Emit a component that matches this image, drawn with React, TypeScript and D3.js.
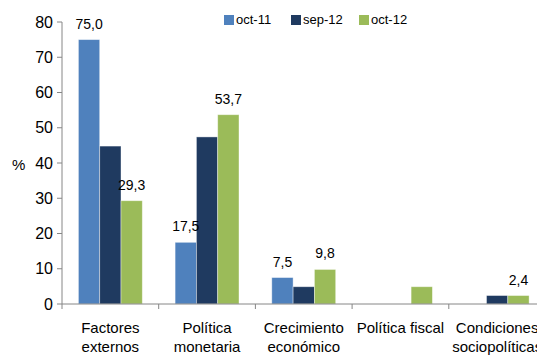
import React from "react";
import * as d3 from "d3";

const categories = [
  ["Factores", "externos"],
  ["Política", "monetaria"],
  ["Crecimiento", "económico"],
  ["Política fiscal"],
  ["Condiciones", "sociopolíticas"],
];
const seriesNames = ["oct-11", "sep-12", "oct-12"];
const colors = ["#4F81BD", "#1F3A60", "#9BBB59"];
const oct11 = [75.0, 17.5, 7.5, 0, 0];
const sep12 = [44.8, 47.4, 4.9, 0, 2.4];
const oct12 = [29.3, 53.7, 9.8, 4.9, 2.4];
const oct11Labels = ["75,0", "17,5", "7,5", "", ""];
const sep12Labels = ["", "", "", "", ""];
const oct12Labels = ["29,3", "53,7", "9,8", "", "2,4"];
const yTicks = [0, 10, 20, 30, 40, 50, 60, 70, 80];

const W = 537;
const H = 356;
const font = "'Liberation Sans', Arial, sans-serif";

export default function App() {
  const series = [oct11, sep12, oct12];
  const labels = [oct11Labels, sep12Labels, oct12Labels];
  const left = 62;
  const catW = 96.7;
  const x = d3
    .scaleBand<number>()
    .domain(d3.range(categories.length))
    .range([left, left + catW * categories.length])
    .paddingInner(0)
    .paddingOuter(0);
  const y = d3.scaleLinear().domain([0, 80]).range([304, 22]);
  const inner = d3
    .scaleBand<number>()
    .domain([0, 1, 2])
    .range([0, x.bandwidth()])
    .paddingInner(0)
    .paddingOuter(0.77);

  return (
    <svg
      width={W}
      height={H}
      style={{ position: "absolute", left: 0, top: 0, background: "#fff" }}
      fontFamily={font}
    >
      {/* y axis */}
      <line x1={left} x2={left} y1={y(80)} y2={y(0)} stroke="#868686" strokeWidth={1} />
      {yTicks.map((t) => (
        <g key={t}>
          <line x1={left - 5} x2={left} y1={y(t)} y2={y(t)} stroke="#868686" />
          <text x={53} y={y(t)} dy="0.35em" textAnchor="end" fontSize={16} fill="#000">
            {t}
          </text>
        </g>
      ))}
      <text x={12} y={y(40)} dy="0.45em" fontSize={15} fill="#000">
        %
      </text>
      {/* bars */}
      {series.map((vals, si) =>
        vals.map((v, ci) =>
          v > 0 ? (
            <rect
              key={`${si}-${ci}`}
              x={(x(ci) as number) + (inner(si) as number)}
              y={y(v)}
              width={inner.bandwidth()}
              height={y(0) - y(v)}
              fill={colors[si]}
              stroke="#ffffff"
              strokeOpacity={0.5}
              strokeWidth={0.8}
            />
          ) : null
        )
      )}
      {/* data labels */}
      {labels.map((labs, si) =>
        labs.map((l, ci) =>
          l ? (
            <text
              key={`l${si}-${ci}`}
              x={(x(ci) as number) + (inner(si) as number) + inner.bandwidth() / 2}
              y={y(series[si][ci]) - 11}
              textAnchor="middle"
              fontSize={14}
              fill="#000"
            >
              {l}
            </text>
          ) : null
        )
      )}
      {/* x axis */}
      <line x1={left} x2={W} y1={y(0)} y2={y(0)} stroke="#868686" />
      {d3.range(categories.length + 1).map((i) => (
        <line
          key={`xt${i}`}
          x1={left + catW * i}
          x2={left + catW * i}
          y1={y(0)}
          y2={y(0) + 5}
          stroke="#868686"
        />
      ))}
      {categories.map((lines, ci) => (
        <text
          key={`c${ci}`}
          x={(x(ci) as number) + x.bandwidth() / 2}
          y={333}
          textAnchor="middle"
          fontSize={15}
          fill="#000"
        >
          {lines.map((ln, li) => (
            <tspan key={li} x={(x(ci) as number) + x.bandwidth() / 2} dy={li === 0 ? 0 : 19}>
              {ln}
            </tspan>
          ))}
        </text>
      ))}
      {/* legend */}
      {seriesNames.map((n, i) => {
        const lx = [224, 291, 359][i];
        return (
          <g key={n}>
            <rect x={lx} y={15} width={10} height={10} fill={colors[i]} />
            <text x={lx + 12} y={24} fontSize={13} fill="#000">
              {n}
            </text>
          </g>
        );
      })}
    </svg>
  );
}
